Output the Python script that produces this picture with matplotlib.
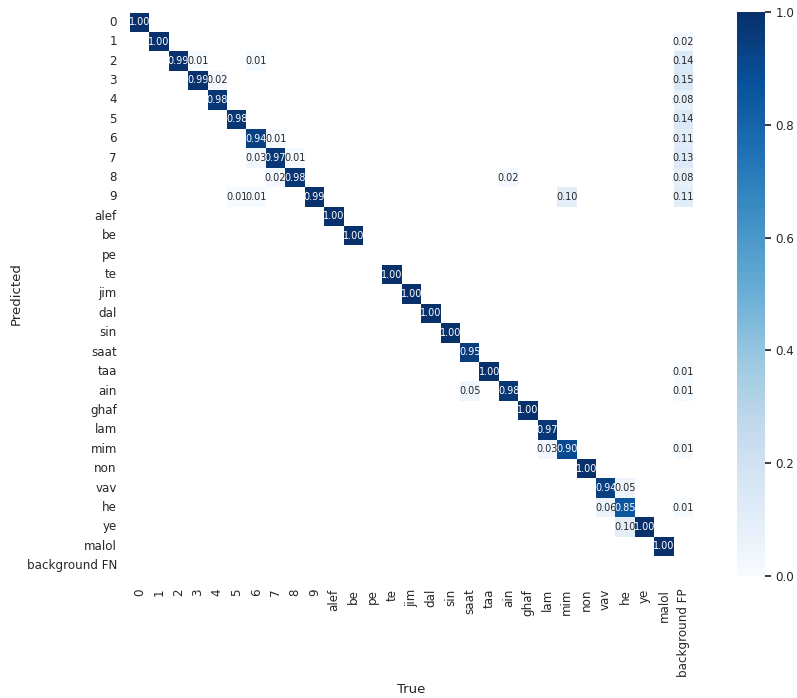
import numpy as np
import matplotlib
matplotlib.use("Agg")
import matplotlib.pyplot as plt
import seaborn as sns

# class names (rows get "background FN", columns get "background FP")
names = ["0", "1", "2", "3", "4", "5", "6", "7", "8", "9",
         "alef", "be", "pe", "te", "jim", "dal", "sin", "saat", "taa", "ain",
         "ghaf", "lam", "mim", "non", "vav", "he", "ye", "malol"]
row_labels = names + ["background FN"]
col_labels = names + ["background FP"]

# diagonal (correct predictions), one per class
diag = [1.00, 1.00, 0.99, 0.99, 0.98, 0.98, 0.94, 0.97, 0.98, 0.99,
        1.00, 1.00, 0.00, 1.00, 1.00, 1.00, 1.00, 0.95, 1.00, 0.98,
        1.00, 0.97, 0.90, 1.00, 0.94, 0.85, 1.00, 1.00]

# off-diagonal confusions: (predicted row, true column, value)
off_diag = [
    (2, 3, 0.01), (2, 6, 0.01),
    (3, 4, 0.02),
    (6, 7, 0.01),
    (7, 6, 0.03), (7, 8, 0.01),
    (8, 7, 0.02), (8, 19, 0.02),
    (9, 5, 0.01), (9, 6, 0.01), (9, 22, 0.10),
    (19, 17, 0.05),
    (22, 21, 0.03),
    (24, 25, 0.05),
    (25, 24, 0.06),
    (26, 25, 0.10),
]

# background FP column, per predicted class
bg_fp = [0.00, 0.02, 0.14, 0.15, 0.08, 0.14, 0.11, 0.13, 0.08, 0.11,
         0.00, 0.00, 0.00, 0.00, 0.00, 0.00, 0.00, 0.00, 0.01, 0.01,
         0.00, 0.00, 0.01, 0.00, 0.00, 0.01, 0.00, 0.00]

n = len(names) + 1
matrix = np.zeros((n, n))
for i, v in enumerate(diag):
    matrix[i, i] = v
for r, c, v in off_diag:
    matrix[r, c] = v
for i, v in enumerate(bg_fp):
    matrix[i, n - 1] = v
matrix[matrix < 0.005] = np.nan

sns.set(font_scale=1.0)
fig = plt.figure(figsize=(7.97, 6.98), dpi=100)
ax = fig.add_axes([130 / 797, 1 - 576 / 698, 563 / 797, 564 / 698])
cax = fig.add_axes([737 / 797, 1 - 576 / 698, 28 / 797, 564 / 698])

sns.heatmap(matrix, ax=ax, cbar_ax=cax, annot=True, annot_kws={"size": 7},
            cmap="Blues", fmt=".2f", square=True, vmin=0.0,
            xticklabels=col_labels, yticklabels=row_labels)
ax.set_facecolor((1, 1, 1))
ax.set_xlabel("True", fontsize=9.5, labelpad=4)
ax.set_ylabel("Predicted", fontsize=9.5, labelpad=3)
ax.tick_params(labelsize=8.6)
cax.tick_params(labelsize=8.6, length=4)

fig.savefig("out.png", dpi=100)
